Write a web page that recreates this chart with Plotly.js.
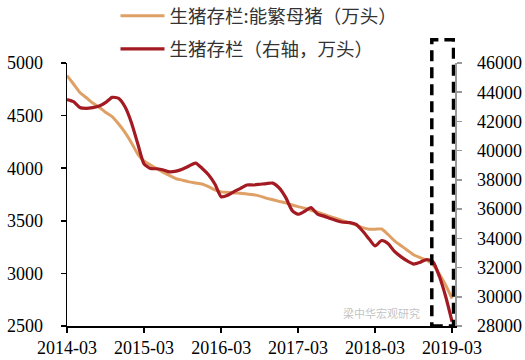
<!DOCTYPE html>
<html>
<head>
<meta charset="utf-8">
<script src="https://cdn.plot.ly/plotly-3.0.1.min.js"></script>
<style>html,body{margin:0;padding:0;background:#fff;}#chart{width:525px;height:360px;}</style>
</head>
<body>
<div id="chart"></div>
<script>
// Monthly dates 2014-03 .. 2019-03
const months = [
 "2014-03","2014-04","2014-05","2014-06","2014-07","2014-08","2014-09","2014-10","2014-11","2014-12","2015-01","2015-02",
 "2015-03","2015-04","2015-05","2015-06","2015-07","2015-08","2015-09","2015-10","2015-11","2015-12","2016-01","2016-02",
 "2016-03","2016-04","2016-05","2016-06","2016-07","2016-08","2016-09","2016-10","2016-11","2016-12","2017-01","2017-02",
 "2017-03","2017-04","2017-05","2017-06","2017-07","2017-08","2017-09","2017-10","2017-11","2017-12","2018-01","2018-02",
 "2018-03","2018-04","2018-05","2018-06","2018-07","2018-08","2018-09","2018-10","2018-11","2018-12","2019-01","2019-02",
 "2019-03"
];
// 生猪存栏:能繁母猪（万头） - left axis
const sows = [
 4880,4800,4720,4670,4620,4580,4530,4490,4420,4340,4240,4130,
 4070,4030,3995,3960,3930,3900,3885,3870,3860,3850,3825,3795,
 3775,3770,3765,3762,3755,3748,3735,3715,3700,3685,3670,3650,
 3635,3620,3600,3583,3560,3540,3520,3500,3480,3460,3435,3420,
 3420,3422,3370,3310,3265,3220,3175,3150,3125,3080,2990,2880,
 2760
];
// 生猪存栏（右轴，万头） - right axis
const hogs = [
 43500,43350,42950,42900,42950,43050,43300,43650,43580,43000,41900,40400,
 39100,38780,38760,38680,38550,38600,38750,38950,39150,38800,38350,37700,
 36850,36950,37200,37420,37650,37650,37700,37750,37780,37450,36800,35900,
 35650,35850,36100,35650,35520,35350,35200,35100,35070,34950,34500,33950,
 33475,33850,33650,33100,32750,32450,32240,32370,32550,32380,31350,29900,
 28300
];
const tickMonths = ["2014-03","2015-03","2016-03","2017-03","2018-03","2019-03"];
const seriesNames = ["生猪存栏:能繁母猪（万头）","生猪存栏（右轴，万头）"];
const watermark = "梁中华宏观研究";

const toDate = m => m + "-01";
const serif = "Liberation Serif, Times New Roman, serif";
const cjk = "Noto Sans CJK SC, sans-serif";

const traces = [
 {x: months.map(toDate), y: sows, name: seriesNames[0], type: "scatter", mode: "lines", legendgroup: "a",
  line: {color: "#DFA066", width: 3, shape: "spline", smoothing: 0.6}, yaxis: "y"},
 {x: months.map(toDate), y: hogs, name: seriesNames[1], type: "scatter", mode: "lines", legendgroup: "b",
  line: {color: "#A31A22", width: 3.2, shape: "spline", smoothing: 0.6}, yaxis: "y2"}
];

const layout = {
 width: 525, height: 360,
 margin: {l: 67, r: 70, t: 63, b: 34, autoexpand: false},
 paper_bgcolor: "#fff", plot_bgcolor: "#fff",
 showlegend: true,
 legend: {x: 0.125, y: 1.25, xanchor: "left", yanchor: "top", orientation: "v",
   font: {family: cjk, size: 18.5, color: "#333"}, bgcolor: "rgba(0,0,0,0)",
   itemwidth: 44, traceorder: "grouped", tracegroupgap: 6},
 xaxis: {type: "date", range: ["2014-03-01", "2019-03-15"],
   tickvals: tickMonths.map(toDate), ticktext: tickMonths,
   showgrid: false, zeroline: false, showline: true, linecolor: "#000", linewidth: 1.5,
   ticks: "outside", ticklen: 5, tickcolor: "#000", tickwidth: 1.5,
   tickfont: {family: serif, size: 18, color: "#000"}},
 yaxis: {range: [2500, 5000], dtick: 500, tick0: 2500,
   showgrid: false, zeroline: false, showline: true, linecolor: "#000", linewidth: 1.5,
   ticks: "outside", ticklen: 5, tickcolor: "#000", tickwidth: 1.5,
   ticklabelstandoff: 14,
   tickfont: {family: serif, size: 18, color: "#000"}},
 yaxis2: {range: [28000, 46000], dtick: 2000, tick0: 28000, overlaying: "y", side: "right",
   tickformat: "d",
   showgrid: false, zeroline: false, showline: true, linecolor: "#999", linewidth: 1.5,
   ticks: "outside", ticklen: 5, tickcolor: "#999", tickwidth: 1.5,
   ticklabelstandoff: 12,
   tickfont: {family: serif, size: 18, color: "#000"}},
 shapes: [
  {type: "rect", xref: "x", yref: "paper", x0: "2018-11-25", x1: "2019-03-08", y0: 0, y1: 1.088,
   line: {color: "#000", width: 3.5, dash: "11px,6px"}, fillcolor: "rgba(0,0,0,0)", layer: "above"}
 ],
 annotations: [
  {text: watermark, xref: "paper", yref: "paper", x: 0.81, y: 0.01, xanchor: "center", yanchor: "bottom",
   showarrow: false, font: {family: cjk, size: 11, color: "rgba(130,130,130,0.5)"}}
 ]
};

Plotly.newPlot("chart", traces, layout, {staticPlot: true, displayModeBar: false});
</script>
</body>
</html>
